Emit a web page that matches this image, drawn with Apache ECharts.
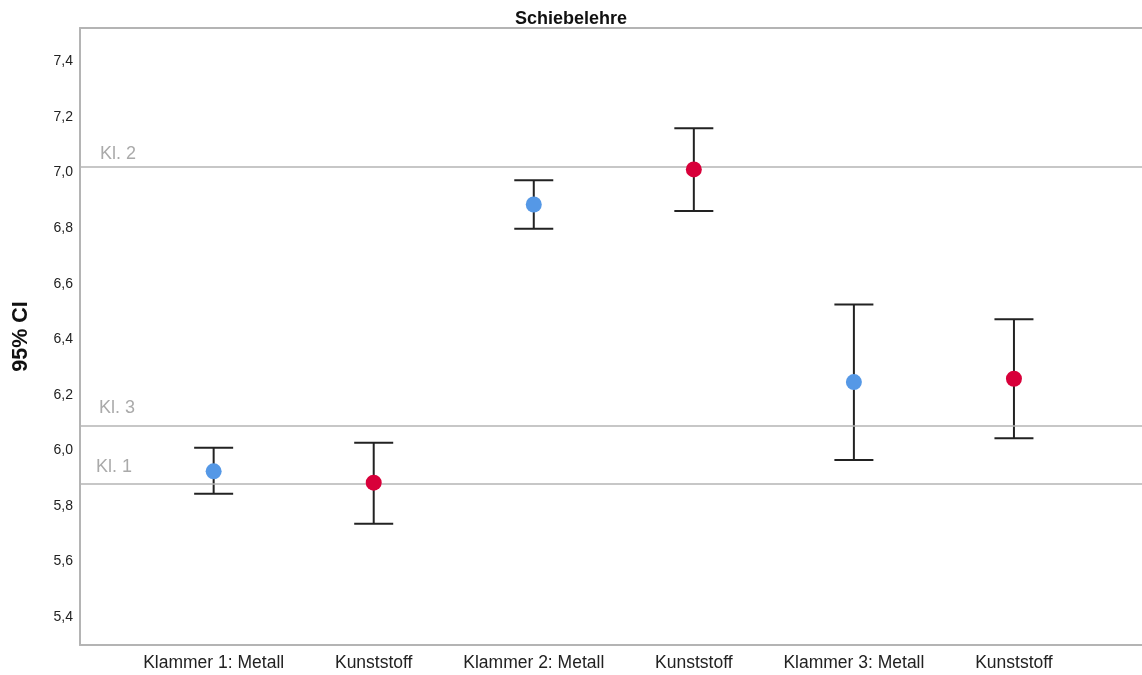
<!DOCTYPE html>
<html>
<head>
<meta charset="utf-8">
<script src="https://cdn.jsdelivr.net/npm/echarts@6/dist/echarts.min.js"></script>
<style>
  html, body { margin: 0; padding: 0; background: #fff; }
  #chart { width: 1142px; height: 675px; }
</style>
</head>
<body>
<div id="chart"></div>
<script>
// Group labels along the x axis
const categories = ['Klammer 1: Metall', 'Kunststoff', 'Klammer 2: Metall', 'Kunststoff', 'Klammer 3: Metall', 'Kunststoff'];
// Material of each group (drives the point colour)
const material = ['Metall', 'Kunststoff', 'Metall', 'Kunststoff', 'Metall', 'Kunststoff'];
// Mean and 95% confidence interval bounds
const means = [5.925, 5.884, 6.885, 7.011, 6.246, 6.258];
const lower = [5.844, 5.736, 6.798, 6.862, 5.966, 6.044];
const upper = [6.010, 6.028, 6.972, 7.159, 6.525, 6.472];
// Horizontal class reference lines
const refNames = ['Kl. 2', 'Kl. 3', 'Kl. 1'];
const refValues = [7.02, 6.09, 5.88];
// Y tick labels
const yTicks = [5.4, 5.6, 5.8, 6.0, 6.2, 6.4, 6.6, 6.8, 7.0, 7.2, 7.4];

const materialColor = { Metall: '#5598e6', Kunststoff: '#d8003a' };
const frameColor = '#b4b4b4';
const refLabelOffsets = [[15, 1], [14, -3], [11, -3]];

const ciData = categories.map((c, i) => [i, lower[i], upper[i]]);
const pointData = categories.map((c, i) => ({
  value: [i, means[i]],
  itemStyle: { color: materialColor[material[i]] }
}));

const chart = echarts.init(document.getElementById('chart'), null, { renderer: 'canvas' });

chart.setOption({
  animation: false,
  backgroundColor: '#ffffff',
  title: {
    text: 'Schiebelehre',
    left: 'center',
    top: 5,
    textStyle: { fontFamily: 'Liberation Sans', fontWeight: 'bold', fontSize: 18, color: '#111' }
  },
  grid: { left: 80, right: 0, top: 28, bottom: 30, containLabel: false, outerBoundsMode: 'none' },
  xAxis: [
    {
      type: 'value',
      min: -0.835,
      max: 5.8,
      position: 'bottom',
      splitLine: { show: false },
      axisTick: { show: false },
      axisLine: { show: true, onZero: false, lineStyle: { color: frameColor, width: 2 } },
      axisLabel: {
        customValues: [0, 1, 2, 3, 4, 5],
        formatter: v => categories[Math.round(v)],
        color: '#222',
        fontFamily: 'Liberation Sans',
        fontSize: 17.5,
        margin: 9
      }
    },
    {
      type: 'value',
      min: -0.835,
      max: 5.8,
      position: 'top',
      splitLine: { show: false },
      axisTick: { show: false },
      axisLabel: { show: false },
      axisLine: { show: true, onZero: false, lineStyle: { color: frameColor, width: 2 } }
    }
  ],
  yAxis: {
    type: 'value',
    min: 5.3,
    max: 7.52,
    name: '95% CI',
    nameLocation: 'middle',
    nameGap: 48,
    nameTextStyle: { fontFamily: 'Liberation Sans', fontWeight: 'bold', fontSize: 21.5, color: '#111' },
    splitLine: { show: false },
    axisTick: { show: false },
    axisLine: { show: true, onZero: false, lineStyle: { color: frameColor, width: 2 } },
    axisLabel: {
      customValues: yTicks,
      formatter: v => v.toFixed(1).replace('.', ','),
      color: '#222',
      fontFamily: 'Liberation Sans',
      fontSize: 14,
      margin: 7
    }
  },
  series: [
    {
      type: 'custom',
      name: '95% CI',
      data: ciData,
      z: 3,
      markLine: {
        silent: true,
        symbol: 'none',
        lineStyle: { color: frameColor, width: 1.5, type: 'solid' },
        label: {
          position: 'insideStartTop',
          color: '#aaaaaa',
          fontFamily: 'Liberation Sans',
          fontSize: 18
        },
        data: refValues.map((v, i) => ({
          yAxis: v,
          label: { formatter: refNames[i], offset: refLabelOffsets[i] }
        }))
      },
      renderItem: function (params, api) {
        const x = api.value(0);
        const lo = api.coord([x, api.value(1)]);
        const hi = api.coord([x, api.value(2)]);
        const half = 19.5;
        const style = { stroke: '#222222', lineWidth: 2 };
        return {
          type: 'group',
          children: [
            { type: 'line', shape: { x1: lo[0], y1: lo[1], x2: hi[0], y2: hi[1] }, style: style },
            { type: 'line', shape: { x1: hi[0] - half, y1: hi[1], x2: hi[0] + half, y2: hi[1] }, style: style },
            { type: 'line', shape: { x1: lo[0] - half, y1: lo[1], x2: lo[0] + half, y2: lo[1] }, style: style }
          ]
        };
      }
    },
    {
      type: 'scatter',
      name: 'Mittelwert',
      data: pointData,
      symbol: 'circle',
      symbolSize: 16,
      itemStyle: { opacity: 1 },
      z: 5
    }
  ]
});
</script>
</body>
</html>
